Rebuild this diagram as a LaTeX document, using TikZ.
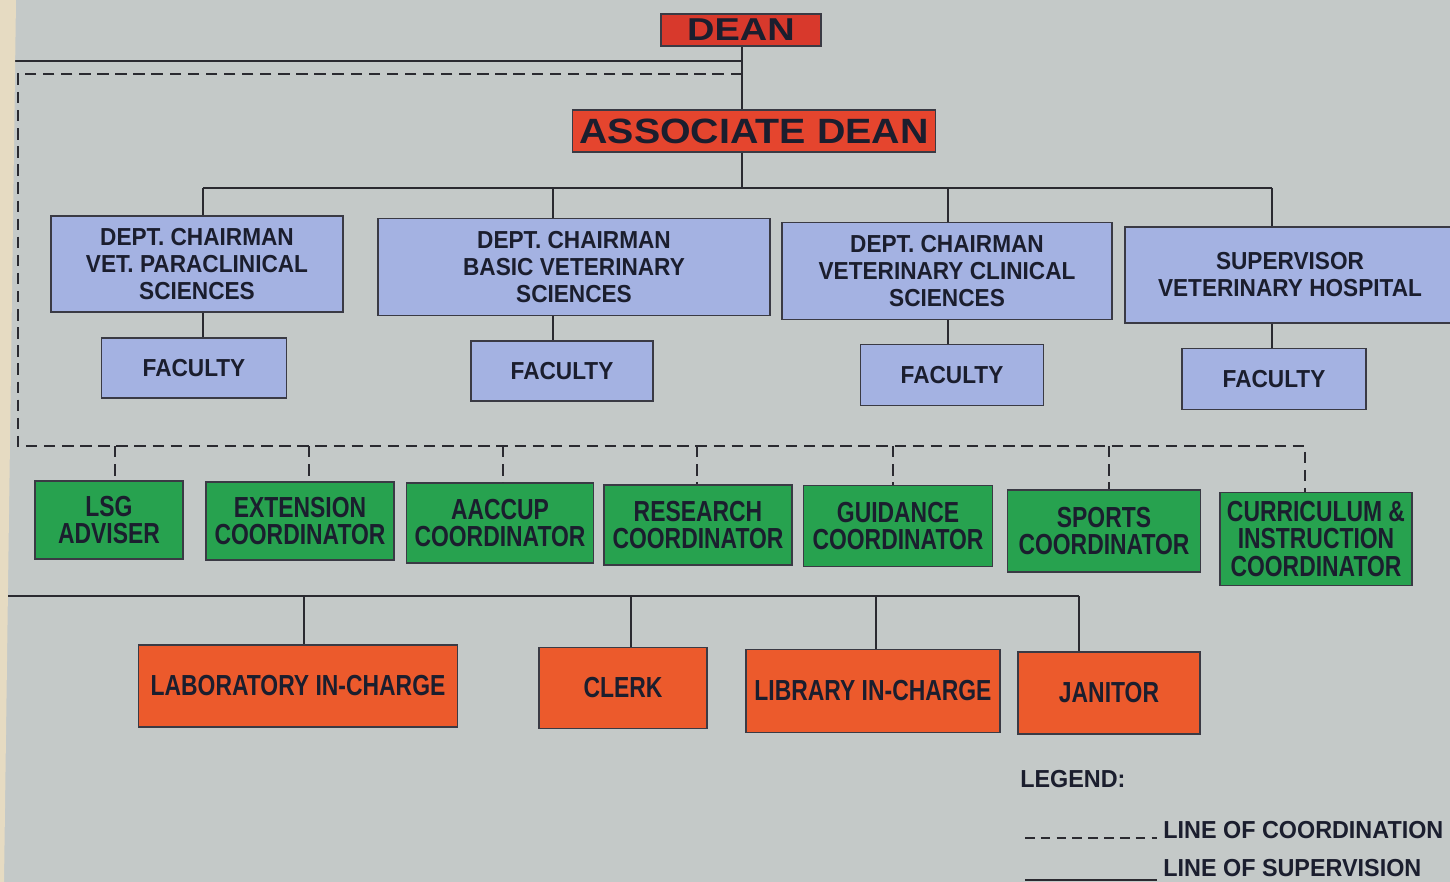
\documentclass[tikz,border=0pt]{standalone}
\usepackage{fontspec}
\setmainfont{Liberation Sans}
\newfontfamily\fblue[FakeStretch=0.92]{Liberation Sans}
\newfontfamily\fgreen[FakeStretch=0.79]{Liberation Sans}
\newfontfamily\fwide[FakeStretch=1.12]{Liberation Sans}
\newfontfamily\fwider[FakeStretch=1.2]{Liberation Sans}
\newfontfamily\flegend[FakeStretch=0.95]{Liberation Sans}
\definecolor{bg}{HTML}{C4C9C8}
\definecolor{strip}{HTML}{E6DBC2}
\definecolor{deanred}{HTML}{D8392C}
\definecolor{assocred}{HTML}{E5452E}
\definecolor{chairblue}{HTML}{A4B2E2}
\definecolor{grn}{HTML}{27A24F}
\definecolor{orng}{HTML}{EC5A2C}
\definecolor{txt}{HTML}{1B1E2E}
\definecolor{edge}{HTML}{3A3A44}
\definecolor{linec}{HTML}{2A2A30}
\tikzset{
  box/.style={draw=edge, line width=0.9pt, inner sep=0pt, align=center, text=txt},
  wh/.style 2 args={minimum width=#1*0.02cm, minimum height=#2*0.02cm},
  deanbox/.style={box, fill=deanred, font=\fwider\bfseries\fontsize{18}{20}\selectfont},
  assocbox/.style={box, fill=assocred, font=\fwide\bfseries\fontsize{20}{23}\selectfont},
  chairbox/.style={box, fill=chairblue, font=\fblue\bfseries\fontsize{14}{15.4}\selectfont},
  greenbox/.style={box, fill=grn, font=\fgreen\bfseries\fontsize{16.5}{15.5}\selectfont},
  staffbox/.style={box, fill=orng, font=\fgreen\bfseries\fontsize{16.5}{18}\selectfont},
  legendtext/.style={inner sep=0pt, anchor=west, text=txt, font=\flegend\bfseries\fontsize{14}{16}\selectfont},
  sup/.style={line width=1.1pt, draw=linec},
  coordline/.style={line width=1.4pt, draw=linec, dash pattern=on 6.5pt off 3.8pt},
}
\begin{document}
\begin{tikzpicture}[x=0.02cm, y=-0.02cm]
\useasboundingbox (0,0) rectangle (1450,882);
\fill[bg] (0,0) rectangle (1450,882);

% nodes
\node[deanbox, wh={160}{32}] (dean) at (741,30) {DEAN};
\node[assocbox, wh={363}{42}] (ad) at (754,131) {ASSOCIATE DEAN};

\node[chairbox, wh={292}{96}] (c1) at (197,264) {DEPT. CHAIRMAN\\VET. PARACLINICAL\\SCIENCES};
\node[chairbox, wh={392}{97}] (c2) at (574,267) {DEPT. CHAIRMAN\\BASIC VETERINARY\\SCIENCES};
\node[chairbox, wh={330}{97}] (c3) at (947,271) {DEPT. CHAIRMAN\\VETERINARY CLINICAL\\SCIENCES};
\node[chairbox, wh={330}{96}] (c4) at (1290,275) {SUPERVISOR\\VETERINARY HOSPITAL};

\node[chairbox, wh={185}{60}] (f1) at (194,368) {FACULTY};
\node[chairbox, wh={182}{60}] (f2) at (562,371) {FACULTY};
\node[chairbox, wh={183}{61}] (f3) at (952,375) {FACULTY};
\node[chairbox, wh={184}{61}] (f4) at (1274,379) {FACULTY};

\node[greenbox, wh={148}{78}] (g1) at (109,520) {LSG\\ADVISER};
\node[greenbox, wh={188}{78}] (g2) at (300,521) {EXTENSION\\COORDINATOR};
\node[greenbox, wh={187}{80}] (g3) at (500,523) {AACCUP\\COORDINATOR};
\node[greenbox, wh={188}{80}] (g4) at (698,525) {RESEARCH\\COORDINATOR};
\node[greenbox, wh={189}{81}] (g5) at (898,526) {GUIDANCE\\COORDINATOR};
\node[greenbox, wh={193}{82}] (g6) at (1104,531) {SPORTS\\COORDINATOR};
\node[greenbox, wh={192}{93}] (g7) at (1316,539) {CURRICULUM \&\\INSTRUCTION\\COORDINATOR};

\node[staffbox, wh={319}{82}] (o1) at (298,686) {LABORATORY IN-CHARGE};
\node[staffbox, wh={168}{81}] (o2) at (623,688) {CLERK};
\node[staffbox, wh={254}{83}] (o3) at (873,691) {LIBRARY IN-CHARGE};
\node[staffbox, wh={182}{82}] (o4) at (1109,693) {JANITOR};

% junction coordinates
\coordinate (jd) at (742,61);
\coordinate (jc) at (742,74);
\coordinate (supL) at (4,61);
\coordinate (supB) at (4,596);
\coordinate (supR) at (1079,596);
\coordinate (b1) at (304,596);
\coordinate (b2) at (631,596);
\coordinate (b3) at (876,596);
\coordinate (aB) at (742,188);
\coordinate (k1) at (203,188);
\coordinate (k2) at (553,188);
\coordinate (k3) at (948,188);
\coordinate (k4) at (1272,188);
\coordinate (dL) at (18,74);
\coordinate (dB) at (18,446);
\coordinate (dR) at (1305,446);
\coordinate (e1) at (115,446);
\coordinate (e2) at (309,446);
\coordinate (e3) at (503,446);
\coordinate (e4) at (697,446);
\coordinate (e5) at (893,446);
\coordinate (e6) at (1109,446);

% supervision lines
\draw[sup] (dean.south -| jd) -- (ad.north -| jd);
\draw[sup] (jd) -- (supL) -- (supB) -- (supR);
\draw[sup] (ad.south -| aB) -- (aB);
\draw[sup] (k1) -- (k4);
\foreach \k/\c/\f in {k1/c1/f1, k2/c2/f2, k3/c3/f3, k4/c4/f4}{
  \draw[sup] (\k) -- (\c.north -| \k);
  \draw[sup] (\c.south -| \k) -- (\f.north -| \k);
}
\draw[sup] (b1) -- (o1.north -| b1);
\draw[sup] (b2) -- (o2.north -| b2);
\draw[sup] (b3) -- (o3.north -| b3);
\draw[sup] (supR) -- (o4.north -| supR);

% coordination lines
\draw[coordline] (jc) -- (dL) -- (dB) -- (dR) -- (g7.north -| dR);
\foreach \e/\g in {e1/g1, e2/g2, e3/g3, e4/g4, e5/g5, e6/g6}{
  \draw[coordline] (\e) -- (\g.north -| \e);
}

% left paper edge
\fill[strip] (0,0) -- (16,0) -- (4,882) -- (0,882) -- cycle;

% legend
\node[legendtext] (lg) at (1020,779) {LEGEND:};
\coordinate (l1a) at (1025,838);
\coordinate (l1b) at (1157,838);
\coordinate (l2a) at (1025,880);
\coordinate (l2b) at (1157,880);
\draw[coordline, dash pattern=on 5.5pt off 3.5pt] (l1a) -- (l1b);
\draw[sup] (l2a) -- (l2b);
\node[legendtext] (lt1) at (1163,830) {LINE OF COORDINATION};
\node[legendtext] (lt2) at (1163,868) {LINE OF SUPERVISION};
\end{tikzpicture}
\end{document}
